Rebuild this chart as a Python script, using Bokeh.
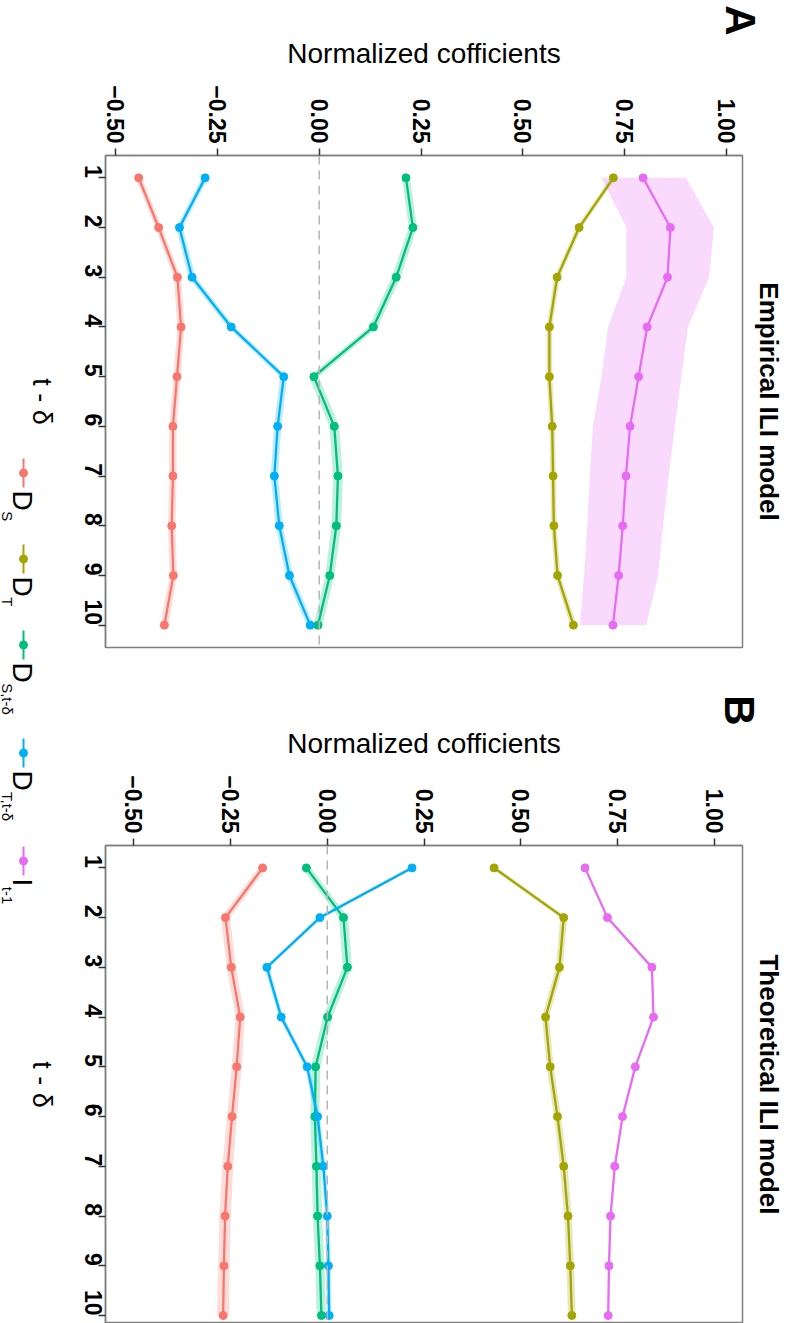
import math
from bokeh.plotting import figure
from bokeh.models import Range1d, FixedTicker, Span, Title, LinearAxis
from bokeh.layouts import row, column
from bokeh.embed import file_html
from bokeh.resources import INLINE
from bokeh.core.properties import value

FONT = "Liberation Sans"

# ---------------- data ----------------
lags = [1, 2, 3, 4, 5, 6, 7, 8, 9, 10]
lag_labels = ["1", "2", "3", "4", "5", "6", "7", "8", "9", "10"]
coef_ticks = [-0.5, -0.25, 0.0, 0.25, 0.5, 0.75, 1.0]
coef_labels = ["\u22120.50", "\u22120.25", "0.00", "0.25", "0.50", "0.75", "1.00"]

series_colors = ["#F8766D", "#A3A500", "#00BF7D", "#00B0F6", "#E76BF3"]
legend_main = ["D", "D", "D", "D", "I"]
legend_sub = ["S", "T", "S,t-\u03b4", "T,t-\u03b4", "t-1"]

# Panel A: Empirical ILI model
emp_ds = [-0.443, -0.394, -0.348, -0.339, -0.349, -0.359, -0.359, -0.362, -0.358, -0.380]
emp_dt = [0.722, 0.638, 0.584, 0.565, 0.565, 0.572, 0.574, 0.576, 0.585, 0.624]
emp_dst = [0.213, 0.230, 0.189, 0.133, -0.013, 0.037, 0.046, 0.042, 0.026, -0.003]
emp_dtt = [-0.280, -0.343, -0.312, -0.216, -0.087, -0.102, -0.110, -0.098, -0.073, -0.022]
emp_i = [0.795, 0.862, 0.855, 0.805, 0.784, 0.763, 0.753, 0.745, 0.735, 0.721]
emp_ds_se = [0.008, 0.008, 0.009, 0.009, 0.009, 0.009, 0.009, 0.009, 0.009, 0.010]
emp_dt_se = [0.007, 0.007, 0.007, 0.007, 0.007, 0.007, 0.007, 0.007, 0.007, 0.008]
emp_dst_se = [0.010, 0.010, 0.011, 0.011, 0.012, 0.012, 0.012, 0.012, 0.011, 0.011]
emp_dtt_se = [0.008, 0.008, 0.009, 0.009, 0.009, 0.009, 0.009, 0.009, 0.009, 0.009]
emp_i_lo = [0.693, 0.754, 0.754, 0.709, 0.693, 0.672, 0.664, 0.658, 0.650, 0.640]
emp_i_hi = [0.900, 0.969, 0.957, 0.905, 0.889, 0.873, 0.858, 0.844, 0.832, 0.803]

# Panel B: Theoretical ILI model
theo_ds = [-0.167, -0.263, -0.248, -0.225, -0.234, -0.246, -0.257, -0.264, -0.267, -0.269]
theo_dt = [0.431, 0.611, 0.600, 0.564, 0.576, 0.595, 0.611, 0.622, 0.628, 0.632]
theo_dst = [-0.054, 0.042, 0.052, 0.001, -0.030, -0.032, -0.028, -0.025, -0.019, -0.015]
theo_dtt = [0.219, -0.019, -0.156, -0.119, -0.052, -0.025, -0.010, 0.000, 0.003, 0.005]
theo_i = [0.666, 0.724, 0.839, 0.843, 0.796, 0.763, 0.743, 0.732, 0.728, 0.726]
theo_ds_se = [0.011, 0.012, 0.012, 0.012, 0.013, 0.013, 0.014, 0.015, 0.015, 0.016]
theo_dt_se = [0.008, 0.009, 0.009, 0.009, 0.009, 0.009, 0.010, 0.010, 0.010, 0.010]
theo_dst_se = [0.012, 0.012, 0.012, 0.012, 0.012, 0.012, 0.012, 0.012, 0.012, 0.012]
theo_dtt_se = [0.006, 0.006, 0.006, 0.006, 0.006, 0.006, 0.006, 0.006, 0.006, 0.006]
theo_i_se = [0.002, 0.002, 0.002, 0.002, 0.002, 0.002, 0.002, 0.002, 0.002, 0.002]

# ---------------- layout constants (pixels) ----------------
LEG_W = 56
COL_W = 741
B_LEFT = 49
FRAME_W = 638
B_RIGHT = COL_W - B_LEFT - FRAME_W
TOP = 155
A_FRAME, A_BOTTOM = 492, 43
B_FRAME, B_BOTTOM = 478, 0
A_H = TOP + A_FRAME + A_BOTTOM
B_H = TOP + B_FRAME + B_BOTTOM
TOTAL_H = A_H + B_H
FRAME_X0 = LEG_W + B_LEFT          # page x of the frames' left edge


def lo_hi(vals, se):
    return [v - s for v, s in zip(vals, se)], [v + s for v, s in zip(vals, se)]


def style_ticks(ax, size):
    ax.major_label_text_font = FONT
    ax.major_label_text_font_size = size
    ax.major_label_text_font_style = "bold"
    ax.major_label_text_color = "black"


def build_panel(series, ribbons, xr, yr_end, frame_h, bottom, title_text, tag, tag_px):
    p = figure(width=COL_W, height=TOP + frame_h + bottom, title=None,
               x_range=Range1d(*xr), y_range=Range1d(yr_end, 0.55),
               x_axis_location="above", toolbar_location=None, output_backend="svg",
               min_border_left=B_LEFT, min_border_right=B_RIGHT,
               min_border_top=TOP, min_border_bottom=bottom,
               background_fill_color="white", border_fill_color="white",
               outline_line_color="#7F7F7F", outline_line_width=1.5)
    p.grid.visible = False

    for (lo, hi), c in zip(ribbons, series_colors):
        p.harea(y=lags, x1=lo, x2=hi, fill_color=c, fill_alpha=0.25)
    for vals, c in zip(series, series_colors):
        p.line(x=vals, y=lags, line_color=c, line_width=2.3)
    for vals, c in zip(series, series_colors):
        p.scatter(x=vals, y=lags, size=8, fill_color=c, line_color=c)

    p.add_layout(Span(location=0, dimension="height", line_color="#B5B5B5",
                      line_dash="9 6", line_width=1.5))

    xa = p.xaxis[0]
    xa.ticker = FixedTicker(ticks=coef_ticks)
    xa.major_label_overrides = {t: l for t, l in zip(coef_ticks, coef_labels)}
    xa.major_label_orientation = -math.pi / 2
    xa.axis_label = "Normalized cofficients"
    xa.axis_label_text_font = FONT
    xa.axis_label_text_font_size = "28px"
    xa.axis_label_text_font_style = "normal"
    xa.axis_label_text_color = "black"
    xa.axis_label_standoff = 13

    ya = p.yaxis[0]
    ya.ticker = FixedTicker(ticks=lags)
    ya.major_label_overrides = {t: l for t, l in zip(lags, lag_labels)}
    ya.major_label_orientation = -math.pi / 2

    for ax in (xa, ya):
        style_ticks(ax, "23px")
        ax.major_label_standoff = 5
        ax.major_tick_out = 7
        ax.major_tick_in = 0
        ax.major_tick_line_color = "#333333"
        ax.major_tick_line_width = 1.5
        ax.minor_tick_out = 0
        ax.minor_tick_in = 0
        ax.axis_line_color = "#7F7F7F"
        ax.axis_line_width = 1.5

    # panel tag ("A" / "B"), rotated like the rest of the figure, in an outer top axis
    tag_val = xr[0] + (tag_px - FRAME_X0) / FRAME_W * (xr[1] - xr[0])
    tag_axis = LinearAxis(ticker=FixedTicker(ticks=[tag_val]),
                          major_label_overrides={tag_val: tag},
                          major_label_orientation=-math.pi / 2,
                          major_label_standoff=0, major_tick_out=0, major_tick_in=0,
                          minor_tick_out=0, minor_tick_in=0, axis_line_color=None)
    style_ticks(tag_axis, "42px")
    p.add_layout(tag_axis, "above")

    p.add_layout(Title(text=title_text, text_font=FONT, text_font_size="26px",
                       text_font_style="bold", text_color="black", align="center",
                       standoff=23), "right")
    return p


ribbons_a = [lo_hi(emp_ds, emp_ds_se), lo_hi(emp_dt, emp_dt_se), lo_hi(emp_dst, emp_dst_se),
             lo_hi(emp_dtt, emp_dtt_se), (emp_i_lo, emp_i_hi)]
ribbons_b = [lo_hi(theo_ds, theo_ds_se), lo_hi(theo_dt, theo_dt_se), lo_hi(theo_dst, theo_dst_se),
             lo_hi(theo_dtt, theo_dtt_se), lo_hi(theo_i, theo_i_se)]

pa = build_panel([emp_ds, emp_dt, emp_dst, emp_dtt, emp_i], ribbons_a,
                 (-0.5245, 1.039), 10.45, A_FRAME, A_BOTTOM, "Empirical ILI model", "A", 741)
pb = build_panel([theo_ds, theo_dt, theo_dst, theo_dtt, theo_i], ribbons_b,
                 (-0.573, 1.073), 10.16, B_FRAME, B_BOTTOM, "Theoretical ILI model", "B", 740)

# ---------------- legend strip (rotated, like the reference) ----------------
leg = figure(width=LEG_W, height=TOTAL_H, title=None,
             x_range=Range1d(0, LEG_W), y_range=Range1d(TOTAL_H, 0),
             toolbar_location=None, output_backend="svg", min_border=0,
             x_axis_type=None, y_axis_type=None, outline_line_color=None,
             background_fill_color="white", border_fill_color="white")
leg.grid.visible = False

key_y0 = [458, 544, 630, 738, 846]
KEY_LEN = 29
KEY_X = 23
main_adv = [20.2, 20.2, 20.2, 20.2, 7.8]
sub_adv = [10.0, 9.2, 31.6, 30.8, 17.5]

leg.segment(x0=[KEY_X] * 5, y0=key_y0, x1=[KEY_X] * 5, y1=[y + KEY_LEN for y in key_y0],
            line_color=series_colors, line_width=2)
leg.scatter(x=[KEY_X] * 5, y=[y + KEY_LEN / 2 for y in key_y0], size=8,
            fill_color=series_colors, line_color=series_colors)
label_y = [y + KEY_LEN + 3 for y in key_y0]
leg.text(x=[22] * 5, y=[y + a / 2 for y, a in zip(label_y, main_adv)], text=legend_main,
         angle=-math.pi / 2, text_align="center", text_baseline="middle",
         text_font=value(FONT), text_font_size="28px", text_color="black")
leg.text(x=[7] * 5, y=[y + a + 0.5 + s / 2 for y, a, s in zip(label_y, main_adv, sub_adv)],
         text=legend_sub, angle=-math.pi / 2, text_align="center", text_baseline="middle",
         text_font=value(FONT), text_font_size="15px", text_color="black")

# "t - δ" axis titles for the two panels (centred on each panel's frame)
t_y = [TOP + A_FRAME / 2, A_H + TOP + B_FRAME / 2]
leg.text(x=[41, 41], y=t_y, text=["t - \u03b4", "t - \u03b4"], angle=-math.pi / 2,
         text_align="center", text_baseline="middle", text_font=value(FONT),
         text_font_size="27px", text_color="black")

layout = row(leg, column(pa, pb))
open("out.html", "w").write(file_html(layout, INLINE))
